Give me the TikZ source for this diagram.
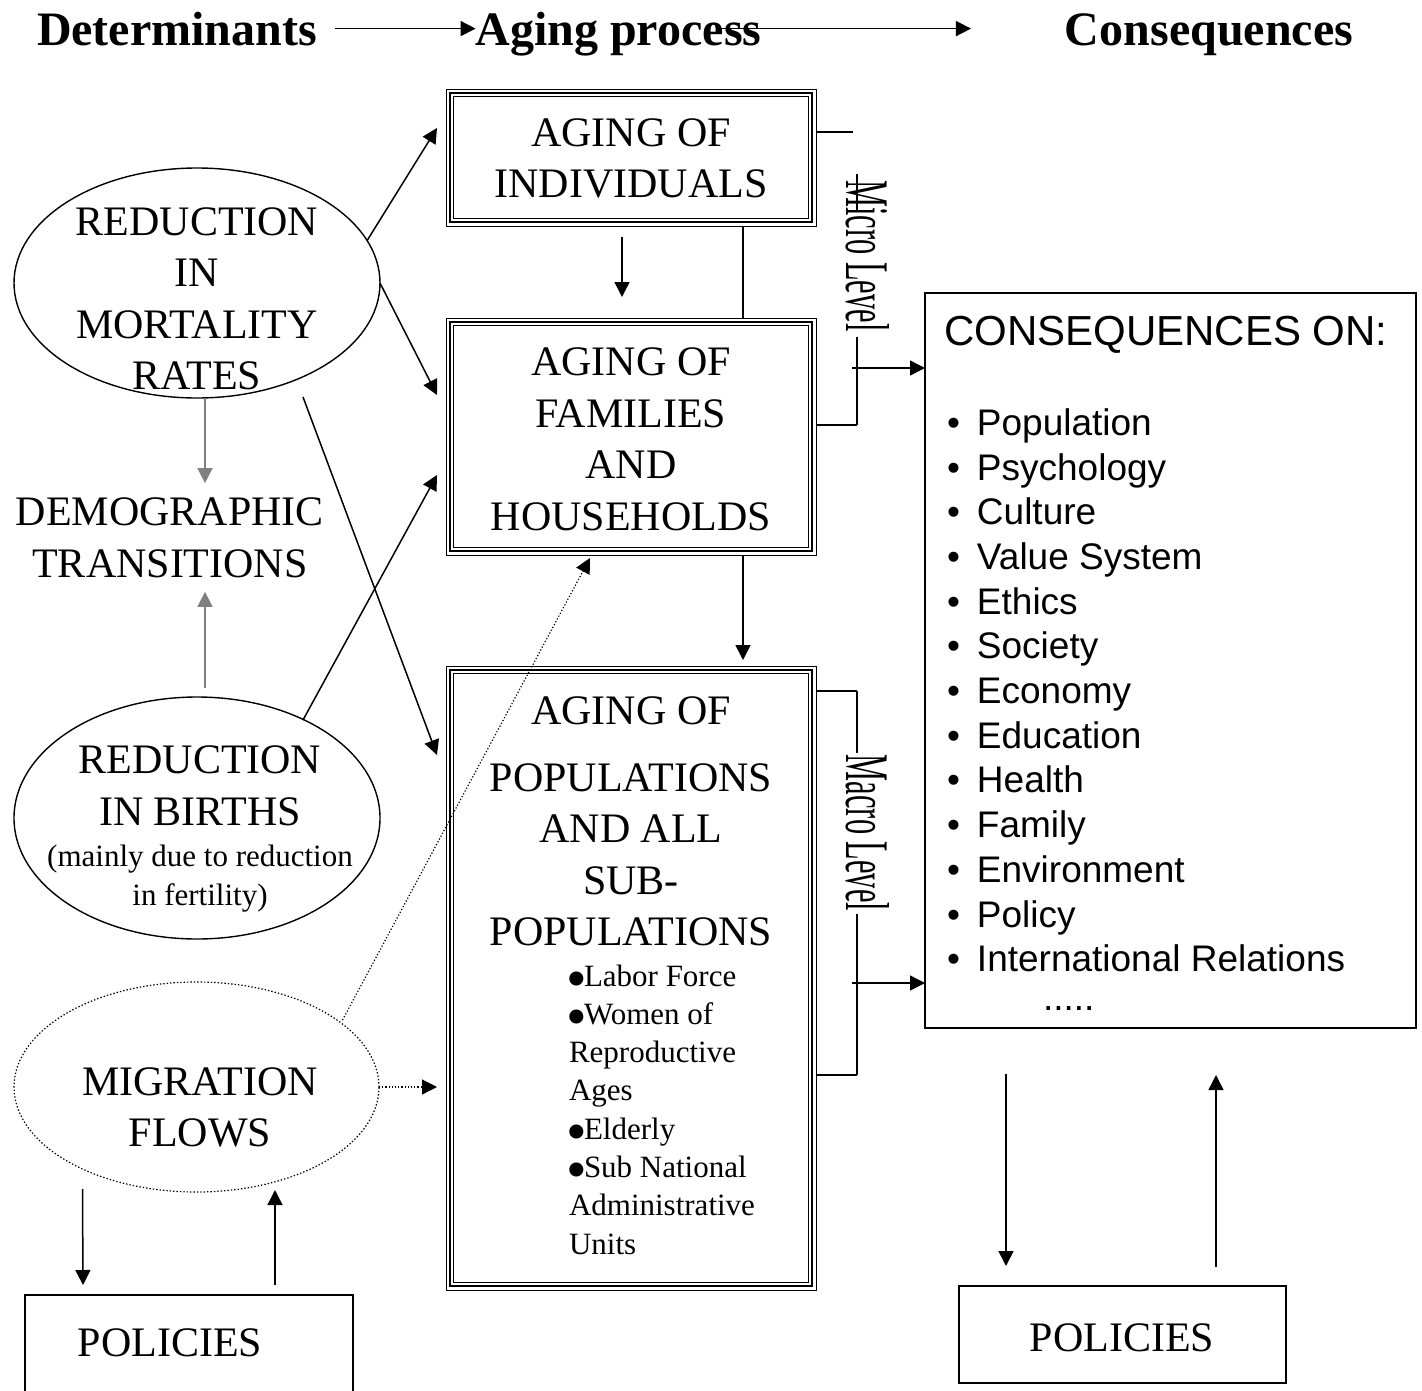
\documentclass[tikz,border=0pt]{standalone}
\usepackage{fontspec}
\setmainfont{Liberation Serif}
\newfontfamily\arialf{Liberation Sans}
\usetikzlibrary{arrows.meta,shapes.geometric,calc}
\newcommand\bigbul{\makebox[15pt][l]{\hspace*{-3pt}\raisebox{-12pt}[14pt][0pt]{\scalebox{1.9}{•}}}}
\begin{document}
\begin{tikzpicture}[x=1pt,y=-1pt,
  every node/.style={inner sep=0pt, outer sep=0pt},
  big/.style={font=\fontsize{42}{51.5}\selectfont, align=center},
  hdr/.style={font=\fontsize{48}{56}\selectfont\bfseries, anchor=base},
  small/.style={font=\fontsize{31}{38.3}\selectfont},
  ovalshape/.style={ellipse, draw, line width=1.4pt},
  tribox/.style={rectangle, draw, line width=1pt},
  plainbox/.style={rectangle, draw, line width=1.4pt},
  arr/.style={line width=1.5pt, -{Triangle[length=15pt,width=15pt]}},
  garr/.style={arr, draw=gray, fill=gray},
  darr/.style={line width=1.2pt, dotted, -{Triangle[length=15pt,width=15pt]}},
  lvl/.style={rotate=-90, font=\fontsize{62}{70}\selectfont},
  brk/.style={line width=1.4pt}
]
\useasboundingbox (0,0) rectangle (1422,1390);

% headers
\node[hdr] (det) at (177,45) {Determinants};
\node[hdr] (aging) at (618.5,45) {Aging process};
\node[hdr] (conshead) at (1209,45) {Consequences};

% aging boxes
\node[tribox, minimum width=370pt, minimum height=137pt] (b1) at (631,157.5) {};
\node[tribox, minimum width=370pt, minimum height=237pt] (b2) at (631,436.5) {};
\node[tribox, minimum width=370pt, minimum height=624pt] (b3) at (631,978) {};
\foreach \b in {b1,b2,b3}{
  \draw[line width=2.2pt] ([shift={(4pt,-4pt)}]\b.north west) rectangle ([shift={(-4pt,4pt)}]\b.south east);
  \draw[line width=0.8pt] ([shift={(7.5pt,-7.5pt)}]\b.north west) rectangle ([shift={(-7.5pt,7.5pt)}]\b.south east);
}
\node[big] (t1) at (631,158.5) {AGING OF\\INDIVIDUALS};
\node[big] (t2) at (631,439.5) {AGING OF\\FAMILIES\\AND\\HOUSEHOLDS};
\node[big] (t3) at (631,821.5) {AGING OF\\[15pt]POPULATIONS\\AND ALL\\SUB-\\POPULATIONS};
\node[small, align=left, anchor=west] (sub) at (569,1109.5) {\bigbul Labor Force\\\bigbul Women of\\Reproductive\\Ages\\\bigbul Elderly\\\bigbul Sub National\\Administrative\\Units};

% determinants
\node[ovalshape, minimum width=366pt, minimum height=230pt] (mort) at (197,283) {};
\node[big] (mortt) at (197,299) {REDUCTION\\IN\\MORTALITY\\RATES};
\node[big] (demo) at (170,538) {DEMOGRAPHIC\\TRANSITIONS};
\node[ovalshape, minimum width=366pt, minimum height=242pt] (birth) at (197,818) {};
\node[big] (birthA) at (200,786) {REDUCTION\\IN BIRTHS};
\node[small, align=center] (birthB) at (200,878.5) {(mainly due to reduction\\in fertility)};
\node[ovalshape, dotted, line width=1.2pt, minimum width=365pt, minimum height=210pt] (mig) at (196.5,1087) {};
\node[big] (migt) at (200,1107.5) {MIGRATION\\FLOWS};

% policies
\node[plainbox, minimum width=328pt, minimum height=130pt] (polL) at (189,1360) {};
\node[big] (polLt) at (170,1343) {POLICIES};
\node[plainbox, minimum width=327pt, minimum height=97pt] (polR) at (1122.5,1334.5) {};
\node[big] (polRt) at (1122,1338) {POLICIES};

% consequences
\node[plainbox, minimum width=491pt, minimum height=735pt] (cons) at (1170.5,660.5) {};
\node[font=\arialf\fontsize{42}{48}\selectfont, anchor=base west] (constitle) at (944,345) {CONSEQUENCES ON:};
\node[font=\arialf\fontsize{37}{44.7}\selectfont, align=left, anchor=west] (conslist) at (947,709.5)
{\makebox[30pt][l]{•}Population\\
 \makebox[30pt][l]{•}Psychology\\
 \makebox[30pt][l]{•}Culture\\
 \makebox[30pt][l]{•}Value System\\
 \makebox[30pt][l]{•}Ethics\\
 \makebox[30pt][l]{•}Society\\
 \makebox[30pt][l]{•}Economy\\
 \makebox[30pt][l]{•}Education\\
 \makebox[30pt][l]{•}Health\\
 \makebox[30pt][l]{•}Family\\
 \makebox[30pt][l]{•}Environment\\
 \makebox[30pt][l]{•}Policy\\
 \makebox[30pt][l]{•}International Relations\\[-6pt]
 \hspace*{96pt}.....};

% level labels
\node[lvl] (micro) at (868,256) {\scalebox{0.49}[1]{Micro Level}};
\node[lvl] (macro) at (868,833) {\scalebox{0.49}[1]{Macro Level}};

% micro bracket
\draw[brk] ([yshift=25.5pt]b1.east) -- ++(37,0);
\draw[brk] ([shift={(-11pt,7pt)}]micro.west) -- ++(0,36);
\draw[brk] ([shift={(-11pt,-5pt)}]micro.east) -- ++(0,88);
\draw[brk] ([yshift=11.5pt]b2.east) -- ++(41,0);
\draw[arr] ([shift={(-73pt,292.5pt)}]cons.west) -- ([yshift=292.5pt]cons.west);

% macro bracket
\draw[brk] ([yshift=287pt]b3.east) -- ++(41,0);
\draw[brk] ([shift={(-11pt,63.5pt)}]macro.west) -- ([shift={(-11pt,1.5pt)}]macro.west);
\draw[brk] ([shift={(-11pt,-2.5pt)}]macro.east) -- ++(0,161);
\draw[brk] ([yshift=-97pt]b3.east) -- ++(41,0);
\draw[arr] ([shift={(-73pt,-322.5pt)}]cons.west) -- ([yshift=-322.5pt]cons.west);

% header arrows
\draw[arr] ([xshift=18pt]det.east) -- (det.east -| aging.west);
\draw[arr] ($(aging.east |- det.east)+(-45pt,0)$) -- ($(conshead.west |- det.east)+(-94pt,0)$);

% determinant arrows
\draw[arr] (mort.14) -- ([shift={(-9pt,29.5pt)}]b1.west);
\draw[arr] (mort.east) -- ([shift={(-9pt,41.5pt)}]b2.west);
\draw[arr] ([shift={(106pt,-114pt)}]mort.center) -- ([shift={(-9pt,223pt)}]b3.west);
\draw[arr] ([shift={(106pt,98pt)}]birth.center) -- ([shift={(-9pt,-38.5pt)}]b2.west);
\draw[darr] ([shift={(146pt,67pt)}]mig.center) -- ([shift={(-41pt,-3pt)}]b2.south);
\draw[darr] (mig.east) -- ($(mig.east -| b3.west)+(-9pt,0)$);
\draw[garr] ([xshift=8pt]mort.south) -- ([shift={(35pt,15pt)}]demo.north);
\draw[garr] ([shift={(8pt,9pt)}]birth.north) -- ([shift={(35pt,-14pt)}]demo.south);

% between aging boxes
\draw[arr] ([shift={(-9pt,-11pt)}]b1.south) -- ([shift={(-9pt,21pt)}]b2.north);
\draw[brk] ([xshift=112pt]b1.south) -- ([xshift=112pt]b2.north);
\draw[arr] ([xshift=112pt]b2.south) -- ([shift={(112pt,6pt)}]b3.north);

% policies arrows
\draw[arr] ([shift={(-114pt,3pt)}]mig.south) -- ([shift={(-106pt,10pt)}]polL.north);
\draw[arr] ([shift={(86pt,10pt)}]polL.north) -- ([shift={(78.5pt,2pt)}]mig.south);
\draw[arr] ([shift={(-164.5pt,-46pt)}]cons.south) -- ([shift={(-116.5pt,20pt)}]polR.north);
\draw[arr] ([shift={(93.5pt,19pt)}]polR.north) -- ([shift={(45.5pt,-47pt)}]cons.south);
\end{tikzpicture}
\end{document}
